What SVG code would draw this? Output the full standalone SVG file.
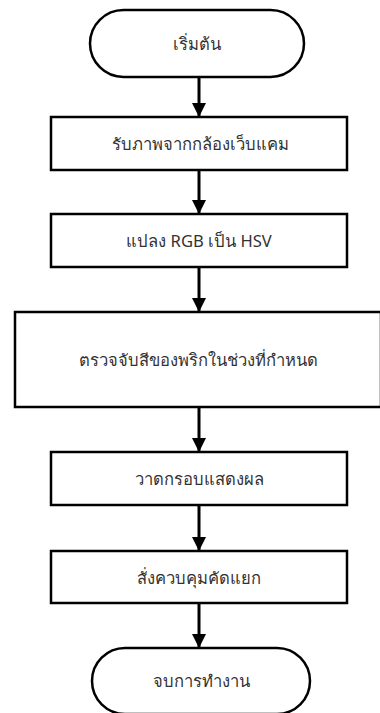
<svg xmlns="http://www.w3.org/2000/svg" width="380" height="713" viewBox="0 0 380 713">
<defs>
<style>
.s{fill:#fff;stroke:#000;stroke-width:2.5}
.t{font-family:"Tahoma","Leelawadee UI","Noto Sans","DejaVu Sans",sans-serif;font-size:16.6px;font-weight:normal;fill:#333;text-anchor:middle;dominant-baseline:central}
.c{stroke:#000;stroke-width:3;fill:none;marker-end:url(#ah)}
</style>
<marker id="ah" viewBox="0 0 10 10" refX="10" refY="5" markerUnits="userSpaceOnUse" markerWidth="14" markerHeight="14" orient="auto">
<path d="M0,0 L10,5 L0,10 Z" fill="#000"/>
</marker>
</defs>
<rect width="380" height="713" fill="#fff"/>
<g id="connectors">
<line class="c" x1="199" y1="77" x2="199" y2="117"/>
<line class="c" x1="199" y1="170" x2="199" y2="214"/>
<line class="c" x1="199" y1="267" x2="199" y2="312"/>
<line class="c" x1="199" y1="407" x2="199" y2="452"/>
<line class="c" x1="199" y1="505" x2="199" y2="551"/>
<line class="c" x1="199" y1="603" x2="199" y2="648"/>
</g>
<g id="start">
<rect class="s" x="90" y="10" width="214" height="67" rx="33.5"/>
<text class="t" x="197" y="43.5">เริ่มต้น</text>
</g>
<g id="capture">
<rect class="s" x="51" y="117" width="296" height="53"/>
<text class="t" x="200" y="143.5">รับภาพจากกล้องเว็บแคม</text>
</g>
<g id="convert">
<rect class="s" x="51" y="214" width="296" height="53"/>
<text class="t" x="199" y="240.5">แปลง RGB เป็น HSV</text>
</g>
<g id="detect">
<rect class="s" x="15" y="312" width="366" height="95"/>
<text class="t" x="198" y="359.5">ตรวจจับสีของพริกในช่วงที่กำหนด</text>
</g>
<g id="draw">
<rect class="s" x="51" y="452" width="296" height="53"/>
<text class="t" x="199" y="478.5">วาดกรอบแสดงผล</text>
</g>
<g id="control">
<rect class="s" x="51" y="551" width="296" height="52"/>
<text class="t" x="199" y="577">สั่งควบคุมคัดแยก</text>
</g>
<g id="end">
<rect class="s" x="92" y="648" width="218" height="66" rx="33"/>
<text class="t" x="201" y="680">จบการทำงาน</text>
</g>
</svg>
